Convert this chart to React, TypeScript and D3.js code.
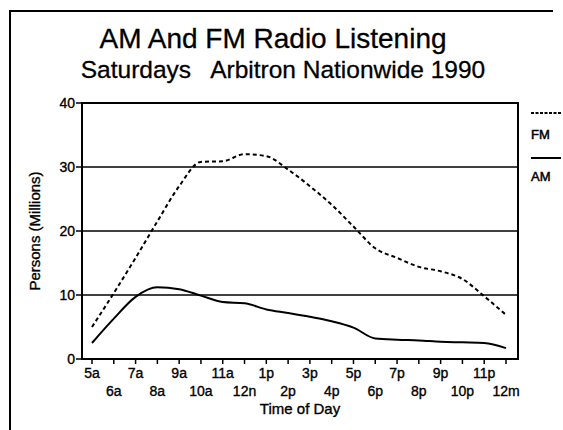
import React from "react";
import * as d3 from "d3";

const hours = ["5a","6a","7a","8a","9a","10a","11a","12n","1p","2p","3p","4p","5p","6p","7p","8p","9p","10p","11p","12m"];
const fmValues = [5.0,10.3,15.8,21.5,27.0,30.8,30.9,32.0,31.7,29.6,27.0,24.1,20.7,17.3,15.8,14.4,13.7,12.5,9.8,6.9];
const amValues = [2.5,6.3,9.7,11.2,10.9,9.9,8.9,8.7,7.75,7.2,6.6,5.9,4.9,3.2,3.0,2.9,2.7,2.6,2.5,1.7];
const yTicks = [0,10,20,30,40];
const gridValues = [10,20,30];

const W = 563, H = 430;
const plot = { left: 82, right: 518, top: 103, bottom: 359 };
const font = "'Liberation Sans', Arial, Helvetica, sans-serif";
const ink = { fill: "#000", stroke: "#000", strokeWidth: 0.35 };

export default function App() {
  const x = d3.scaleLinear().domain([0, hours.length - 1]).range([92, 506]);
  const y = d3.scaleLinear().domain([0, 40]).range([plot.bottom, plot.top]);
  const line = d3.line<number>().x((_, i) => x(i)).y((d) => y(d)).curve(d3.curveMonotoneX);

  return (
    <svg width={W} height={H} style={{ position: "absolute", left: 0, top: 0, background: "#fff" }} fontFamily={font}>
      <rect x={0} y={0} width={W} height={H} fill="#fff" />
      {/* frame */}
      <path d={`M10,${H} V11 H553`} fill="none" stroke="#000" strokeWidth={2} />
      {/* titles */}
      <text x={273} y={48} textAnchor="middle" fontSize={28} {...ink} strokeWidth={0.3}>AM And FM Radio Listening</text>
      <text x={283} y={78} textAnchor="middle" fontSize={24.5} {...ink} strokeWidth={0.3} xmlSpace="preserve">Saturdays   Arbitron Nationwide 1990</text>
      {/* grid */}
      {gridValues.map((v) => (
        <line key={v} x1={plot.left} x2={plot.right} y1={y(v)} y2={y(v)} stroke="#000" strokeWidth={1.6} />
      ))}
      {/* plot border */}
      <path d={`M${plot.left},${plot.top} H${plot.right} V${plot.bottom} H${plot.left} Z`} fill="none" stroke="#000" strokeWidth={2} />
      {/* y ticks */}
      {yTicks.map((v) => (
        <g key={v}>
          <line x1={plot.left - 6} x2={plot.left} y1={y(v)} y2={y(v)} stroke="#000" strokeWidth={1.5} />
          <text x={plot.left - 7} y={y(v) + 5} textAnchor="end" fontSize={14} {...ink}>{v}</text>
        </g>
      ))}
      {/* x ticks */}
      {hours.map((h, i) => (
        <g key={h}>
          <line x1={x(i)} x2={x(i)} y1={plot.bottom} y2={plot.bottom + 5} stroke="#000" strokeWidth={1.5} />
          <text x={x(i)} y={i % 2 === 0 ? 378 : 396} textAnchor="middle" fontSize={14} {...ink}>{h}</text>
        </g>
      ))}
      <text x={300} y={414} textAnchor="middle" fontSize={15} {...ink}>Time of Day</text>
      <text transform={`translate(40,${(plot.top + plot.bottom) / 2}) rotate(-90)`} textAnchor="middle" fontSize={15} {...ink}>Persons (Millions)</text>
      {/* series */}
      <path d={line(fmValues) || ""} fill="none" stroke="#000" strokeWidth={2} strokeDasharray="4,3" />
      <path d={line(amValues) || ""} fill="none" stroke="#000" strokeWidth={2} />
      {/* legend */}
      <line x1={531} x2={561} y1={113} y2={113} stroke="#000" strokeWidth={2} strokeDasharray="3,1.5" />
      <text x={531} y={139} fontSize={13} {...ink} strokeWidth={0.5}>FM</text>
      <line x1={531} x2={561} y1={158} y2={158} stroke="#000" strokeWidth={2} />
      <text x={531} y={181} fontSize={13} {...ink} strokeWidth={0.5}>AM</text>
    </svg>
  );
}
